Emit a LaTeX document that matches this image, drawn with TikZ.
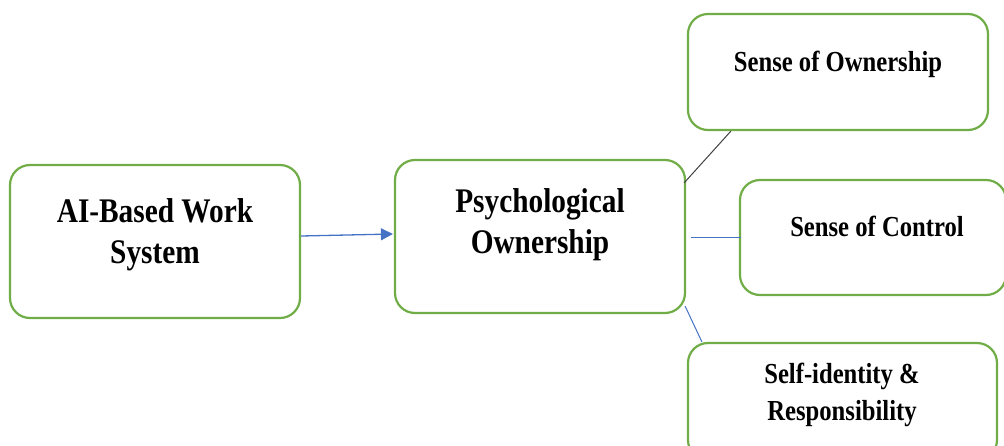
\documentclass[tikz,border=0pt]{standalone}
\usepackage{fontspec}
\setmainfont{Liberation Serif}[FakeStretch=0.85]
\usetikzlibrary{arrows.meta,calc}
\definecolor{boxgreen}{RGB}{112,173,71}
\definecolor{lineblue}{RGB}{68,114,196}
\definecolor{linedark}{RGB}{64,64,64}
\begin{document}
\begin{tikzpicture}[x=1pt,y=-1pt,
  box/.style={draw=boxgreen, line width=2.2pt, rounded corners=20pt, fill=white, inner sep=0pt},
  big/.style={font=\bfseries\fontsize{34.5}{41}\selectfont, align=center, inner sep=0pt},
  small/.style={font=\bfseries\fontsize{29}{37}\selectfont, align=center, inner sep=0pt},
  bluecon/.style={draw=lineblue, line width=1pt},
  darkcon/.style={draw=linedark, line width=1pt},
]
\useasboundingbox (0,0) rectangle (1004,445);
\clip (0,0) rectangle (1004,445);

% boxes
\node[box, minimum width=290pt, minimum height=153pt] (ai) at (155,241.5) {};
\node[box, minimum width=290pt, minimum height=153pt] (psych) at (540,236.5) {};
\node[box, minimum width=300pt, minimum height=116pt] (own) at (838,72) {};
\node[box, minimum width=266pt, minimum height=115pt] (ctrl) at (873,237.5) {};
\node[box, minimum width=309pt, minimum height=117pt] (self) at (842.5,401.5) {};

% texts
\node[big] (aitxt) at (155,235) {AI-Based Work\\System};
\node[big] (psychtxt) at (540,225) {Psychological\\Ownership};
\node[small] (owntxt) at (838,64) {Sense of Ownership};
\node[small] (ctrltxt) at (877,226) {Sense of Control};
\node[small] (selftxt) at (842,395) {Self-identity \&\\Responsibility};

% connectors
\draw[bluecon, line width=1.3pt, -{Triangle[length=12pt,width=12pt]}]
  ($(ai.east)+(0,-5.5)$) -- ($(psych.west)+(-1,-2.5)$);
\draw[darkcon] ($(psych.north east)+(-2,24)$) -- ($(own.south west)+(44,0)$);
\draw[bluecon] ($(psych.east)+(5,0.5)$) -- ($(ctrl.west)+(2,-0.5)$);
\draw[bluecon] ($(psych.south east)+(-1,-8)$) -- ($(self.north west)+(15,0)$);
\end{tikzpicture}
\end{document}
